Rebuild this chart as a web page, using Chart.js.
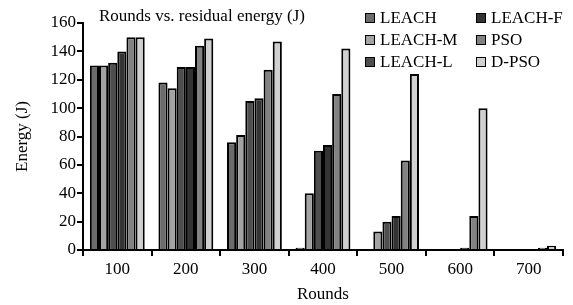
<!DOCTYPE html>
<html>
<head>
<meta charset="utf-8">
<script src="https://cdn.jsdelivr.net/npm/chart.js@4.4.1/dist/chart.umd.min.js"></script>
<style>
  body { margin: 0; background: #fff; }
  #wrap { position: relative; width: 573px; height: 305px; font-family: "Liberation Serif", serif; }
  #title { position: absolute; left: 99px; top: 6px; font-size: 17px; color: #000; }
  #legend { position: absolute; left: 365px; top: 7px; display: grid;
            grid-template-columns: 111px 90px; font-size: 17px; line-height: 22px; }
  .item { display: flex; align-items: center; white-space: nowrap; }
  .sw { width: 8px; height: 8px; border: 1.5px solid #000; margin-right: 5px; }
</style>
</head>
<body>
<div id="wrap">
  <canvas id="myChart" width="573" height="305"></canvas>
  <div id="title">Rounds vs. residual energy (J)</div>
  <div id="legend"></div>
</div>
<script>
// 横軸のラウンド
const rounds = ['100', '200', '300', '400', '500', '600', '700'];

// 各手法の残存エネルギー (J)
const leach  = [130, 118, 76, 1.5, 0, 0, 0];
const leachM = [130, 114, 81, 40, 13, 0, 0];
const leachL = [132, 129, 105, 70, 20, 0, 0];
const leachF = [140, 129, 107, 74, 24, 1.5, 0];
const pso    = [150, 144, 127, 110, 63, 24, 1.5];
const dpso   = [150, 149, 147, 142, 124, 100, 3];

const yTicks = [0, 20, 40, 60, 80, 100, 120, 140, 160];

const series = [
  { label: 'LEACH',   data: leach,  color: '#6b6b6b' },
  { label: 'LEACH-M', data: leachM, color: '#a3a3a3' },
  { label: 'LEACH-L', data: leachL, color: '#4e4e4e' },
  { label: 'LEACH-F', data: leachF, color: '#333333' },
  { label: 'PSO',     data: pso,    color: '#828282' },
  { label: 'D-PSO',   data: dpso,   color: '#d0d0d0' }
];

// 凡例は2列で横並び（元図の並び順）
const legendOrder = ['LEACH', 'LEACH-F', 'LEACH-M', 'PSO', 'LEACH-L', 'D-PSO'];
const legendEl = document.getElementById('legend');
legendOrder.forEach(name => {
  const s = series.find(d => d.label === name);
  const item = document.createElement('div');
  item.className = 'item';
  item.innerHTML = '<span class="sw" style="background:' + s.color + '"></span>' + name;
  legendEl.appendChild(item);
});

const font = { family: '"Liberation Serif", serif', size: 17 };

const ctx = document.getElementById('myChart').getContext('2d');
new Chart(ctx, {
  type: 'bar',
  data: {
    labels: rounds,
    datasets: series.map(s => ({
      label: s.label,
      data: s.data,
      backgroundColor: s.color,
      borderColor: '#000',
      borderWidth: 2,
      categoryPercentage: 0.8,
      barPercentage: 1.0
    }))
  },
  options: {
    responsive: false,
    animation: false,
    layout: { padding: { left: 0, right: 10, top: 23, bottom: 0 } },
    plugins: { legend: { display: false }, tooltip: { enabled: false } },
    scales: {
      x: {
        offset: true,
        grid: { offset: true, drawOnChartArea: false, color: '#000', lineWidth: 2, tickLength: 6 },
        border: { color: '#000', width: 2 },
        ticks: { color: '#000', font: font, padding: 3 },
        title: { display: true, text: 'Rounds', color: '#000', font: font, padding: { top: 0, bottom: 0 } },
        afterFit: axis => { axis.height = 55; }
      },
      y: {
        min: 0,
        max: 160,
        afterBuildTicks: axis => { axis.ticks = yTicks.map(v => ({ value: v })); },
        grid: { drawOnChartArea: false, color: '#000', lineWidth: 2, tickLength: 6 },
        border: { color: '#000', width: 2 },
        ticks: { color: '#000', font: font, padding: 1 },
        title: { display: true, text: 'Energy (J)', color: '#000', font: font, padding: { top: 12, bottom: 0 } },
        afterFit: axis => { axis.width = 83; }
      }
    }
  }
});
</script>
</body>
</html>
